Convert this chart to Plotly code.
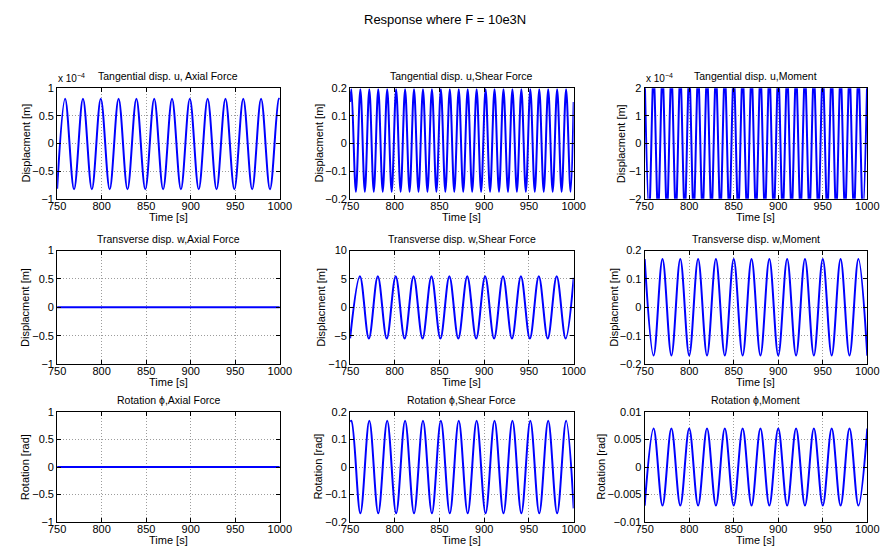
import plotly.graph_objects as go

# ---------------- data ----------------
TIME_TICKS = [750, 800, 850, 900, 950, 1000]
FIG_TITLE = "Response where F = 10e3N"

# Tangential disp. u, Axial Force  (values in 1e-4 m)
u_axial_t = [750, 759, 769, 779, 789, 799, 809, 819, 829, 839, 849, 859, 869, 879,
             889, 899, 909, 919, 929, 939, 949, 959, 969, 979, 989, 999, 1000]
u_axial_v = [-0.82, 0.81, -0.83, 0.81, -0.83, 0.81, -0.83, 0.81, -0.83, 0.81, -0.83, 0.81, -0.83, 0.81,
             -0.83, 0.81, -0.83, 0.81, -0.83, 0.81, -0.83, 0.81, -0.83, 0.81, -0.83, 0.81, 0.80]

# Tangential disp. u, Shear Force  (m)
u_shear_t = [750, 751.5, 756.5, 761.5, 766.5, 771.5, 776.5, 781.5, 786.5, 791.5, 796.5,
             801.5, 806.5, 811.5, 816.5, 821.5, 826.5, 831.5, 836.5, 841.5, 846.5,
             851.5, 856.5, 861.5, 866.5, 871.5, 876.5, 881.5, 886.5, 891.5, 896.5,
             901.5, 906.5, 911.5, 916.5, 921.5, 926.5, 931.5, 936.5, 941.5, 946.5,
             951.5, 956.5, 961.5, 966.5, 971.5, 976.5, 981.5, 986.5, 991.5, 996.5, 1000]
u_shear_v = [0.15, 0.196, -0.175, 0.196, -0.175, 0.196, -0.175, 0.196, -0.175, 0.196, -0.175,
             0.196, -0.175, 0.196, -0.175, 0.196, -0.175, 0.196, -0.175, 0.196, -0.175,
             0.196, -0.175, 0.196, -0.175, 0.196, -0.175, 0.196, -0.175, 0.196, -0.175,
             0.196, -0.175, 0.196, -0.175, 0.196, -0.175, 0.196, -0.175, 0.196, -0.175,
             0.196, -0.175, 0.196, -0.175, 0.196, -0.175, 0.196, -0.175, 0.196, -0.175, 0.15]

# Tangential disp. u, Moment  (values in 1e-4 m, clipped by the axis)
u_moment_t = [750, 755, 760, 765, 770, 775, 780, 785, 790, 795, 800, 805, 810, 815, 820, 825,
              830, 835, 840, 845, 850, 855, 860, 865, 870, 875, 880, 885, 890, 895, 900, 905,
              910, 915, 920, 925, 930, 935, 940, 945, 950, 955, 960, 965, 970, 975, 980, 985,
              990, 995, 1000]
u_moment_v = [2.5, -2.5, 2.5, -2.5, 2.5, -2.5, 2.5, -2.5, 2.5, -2.5, 2.5, -2.5, 2.5, -2.5, 2.5, -2.5,
              2.5, -2.5, 2.5, -2.5, 2.5, -2.5, 2.5, -2.5, 2.5, -2.5, 2.5, -2.5, 2.5, -2.5, 2.5, -2.5,
              2.5, -2.5, 2.5, -2.5, 2.5, -2.5, 2.5, -2.5, 2.5, -2.5, 2.5, -2.5, 2.5, -2.5, 2.5, -2.5,
              2.5, -2.5, 2.5]

# Transverse disp. w, Axial Force
w_axial_t = [750, 1000]
w_axial_v = [0, 0]

# Transverse disp. w, Shear Force
w_shear_t = [750, 761, 771, 781, 791, 801, 811, 821, 831, 841, 851, 861, 871,
             881, 891, 901, 911, 921, 931, 941, 951, 961, 971, 981, 991, 1000]
w_shear_v = [-5.45, 5.5, -5.5, 5.5, -5.5, 5.5, -5.5, 5.5, -5.5, 5.5, -5.5, 5.5, -5.5,
             5.5, -5.5, 5.5, -5.5, 5.5, -5.5, 5.5, -5.5, 5.5, -5.5, 5.5, -5.5, 5.2]

# Transverse disp. w, Moment
w_moment_t = [750, 760, 770, 780, 790, 800, 810, 820, 830, 840, 850, 860, 870,
              880, 890, 900, 910, 920, 930, 940, 950, 960, 970, 980, 990, 1000]
w_moment_v = [0.17, -0.17, 0.17, -0.17, 0.17, -0.17, 0.17, -0.17, 0.17, -0.17, 0.17, -0.17, 0.17,
              -0.17, 0.17, -0.17, 0.17, -0.17, 0.17, -0.17, 0.17, -0.17, 0.17, -0.17, 0.17, -0.17]

# Rotation phi, Axial Force
phi_axial_t = [750, 1000]
phi_axial_v = [0, 0]

# Rotation phi, Shear Force
phi_shear_t = [750, 751.5, 761.5, 771.5, 781.5, 791.5, 801.5, 811.5, 821.5, 831.5, 841.5, 851.5,
               861.5, 871.5, 881.5, 891.5, 901.5, 911.5, 921.5, 931.5, 941.5, 951.5, 961.5,
               971.5, 981.5, 991.5, 1000]
phi_shear_v = [0.165, 0.168, -0.168, 0.168, -0.168, 0.168, -0.168, 0.168, -0.168, 0.168, -0.168, 0.168,
               -0.168, 0.168, -0.168, 0.168, -0.168, 0.168, -0.168, 0.168, -0.168, 0.168, -0.168,
               0.168, -0.168, 0.168, -0.15]

# Rotation phi, Moment
phi_moment_t = [750, 760, 770, 780, 790, 800, 810, 820, 830, 840, 850, 860, 870,
                880, 890, 900, 910, 920, 930, 940, 950, 960, 970, 980, 990, 1000]
phi_moment_v = [-0.007, 0.007, -0.007, 0.007, -0.007, 0.007, -0.007, 0.007, -0.007, 0.007, -0.007, 0.007, -0.007,
                0.007, -0.007, 0.007, -0.007, 0.007, -0.007, 0.007, -0.007, 0.007, -0.007, 0.007, -0.007, 0.007]

TITLES = [
    ["Tangential disp. u, Axial Force", "Tangential disp. u,Shear Force", "Tangential disp. u,Moment"],
    ["Transverse disp. w,Axial Force", "Transverse disp. w,Shear Force", "Transverse disp. w,Moment"],
    ["Rotation \u03d5,Axial Force", "Rotation \u03d5,Shear Force", "Rotation \u03d5,Moment"],
]
Y_LABELS = ["Displacment [m]", "Displacment [m]", "Rotation [rad]"]
X_LABEL = "Time [s]"

SERIES = [
    [(u_axial_t, u_axial_v), (u_shear_t, u_shear_v), (u_moment_t, u_moment_v)],
    [(w_axial_t, w_axial_v), (w_shear_t, w_shear_v), (w_moment_t, w_moment_v)],
    [(phi_axial_t, phi_axial_v), (phi_shear_t, phi_shear_v), (phi_moment_t, phi_moment_v)],
]
Y_RANGES = [
    [(-1, 1, 0.5), (-0.2, 0.2, 0.1), (-2, 2, 1)],
    [(-1, 1, 0.5), (-10, 10, 5), (-0.2, 0.2, 0.1)],
    [(-1, 1, 0.5), (-0.2, 0.2, 0.1), (-0.01, 0.01, 0.005)],
]
EXPONENT = [["x 10<sup>\u22124</sup>", None, "x 10<sup>\u22124</sup>"], [None] * 3, [None] * 3]

# ---------------- layout geometry (pixels) ----------------
W, H = 892, 556
COLS = [(49.3, 277.3), (349.3, 578.3), (651, 879)]
ROWS = [(84, 197), (250, 366), (415, 527.5)]
YLAB_X = [[17.5, 317.5, 627.5], [17, 320, 620], [16.5, 317, 606]]

FONT = "Liberation Sans, Arial, Helvetica, sans-serif"

fig = go.Figure()
annotations = []
layout = dict(
    width=W, height=H, margin=dict(l=0, r=0, t=0, b=0),
    paper_bgcolor="white", plot_bgcolor="white", showlegend=False,
    font=dict(family=FONT, size=11, color="black"),
)

idx = 0
for r in range(3):
    for c in range(3):
        idx += 1
        sfx = "" if idx == 1 else str(idx)
        t, v = SERIES[r][c]
        fig.add_trace(go.Scatter(
            x=t, y=v, mode="lines",
            line=dict(color="#0000ff", width=2, shape="spline", smoothing=1.0),
            xaxis="x" + sfx, yaxis="y" + sfx, hoverinfo="skip",
        ))
        x0, x1 = COLS[c]
        y0, y1 = ROWS[r]
        lo, hi, dt = Y_RANGES[r][c]
        axis_common = dict(
            showline=True, linecolor="black", linewidth=1, mirror="ticks",
            ticks="inside", ticklen=4, tickcolor="black", tickwidth=1,
            showgrid=True, gridcolor="#9c9c9c", griddash="1px,2px", gridwidth=1,
            zeroline=False, tickfont=dict(family=FONT, size=11, color="black"),
            fixedrange=True,
        )
        layout["xaxis" + sfx] = dict(
            axis_common, domain=[x0 / W, x1 / W], anchor="y" + sfx,
            range=[750, 1000], tickvals=TIME_TICKS, ticktext=[str(x) for x in TIME_TICKS],
            ticklabelstandoff=-3,
        )
        layout["yaxis" + sfx] = dict(
            axis_common, domain=[1 - y1 / H, 1 - y0 / H], anchor="x" + sfx,
            range=[lo, hi], dtick=dt, tick0=0,
        )
        # subplot title
        annotations.append(dict(
            text=TITLES[r][c], xref="paper", yref="paper",
            x=(x0 + x1) / 2 / W, y=1 - (y0 - 12) / H, xanchor="center", yanchor="middle",
            showarrow=False, font=dict(family=FONT, size=10.5, color="black"),
        ))
        # x label
        annotations.append(dict(
            text=X_LABEL, xref="paper", yref="paper",
            x=(x0 + x1) / 2 / W, y=1 - (y1 + 18.5) / H, xanchor="center", yanchor="middle",
            showarrow=False, font=dict(family=FONT, size=11, color="black"),
        ))
        # y label
        annotations.append(dict(
            text=Y_LABELS[r], xref="paper", yref="paper", textangle=-90,
            x=YLAB_X[r][c] / W, y=1 - (y0 + y1) / 2 / H, xanchor="center", yanchor="middle",
            showarrow=False, font=dict(family=FONT, size=11, color="black"),
        ))
        if EXPONENT[r][c]:
            annotations.append(dict(
                text=EXPONENT[r][c], xref="paper", yref="paper",
                x=(x0 - 1) / W, y=1 - (y0 - 2) / H, xanchor="left", yanchor="bottom",
                align="left", showarrow=False, font=dict(family=FONT, size=10, color="black"),
            ))

annotations.append(dict(
    text=FIG_TITLE, xref="paper", yref="paper", x=0.5, y=1 - 14 / H,
    xanchor="center", yanchor="middle", showarrow=False,
    font=dict(family=FONT, size=13, color="black"),
))
layout["annotations"] = annotations
fig.update_layout(**layout)
fig.write_html("out.html")
